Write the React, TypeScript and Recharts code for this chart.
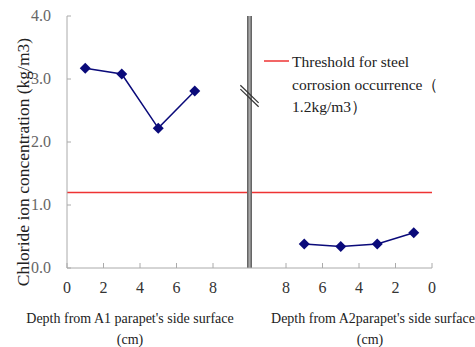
import React from 'react';
import { LineChart, Line, XAxis, YAxis, ReferenceLine } from 'recharts';

// A1 side (left panel), depth in cm from the surface
const a1Depth = [1, 3, 5, 7];
const a1Chloride = [3.17, 3.08, 2.22, 2.81];
// A2 side (right panel), axis runs reversed
const a2Depth = [7, 5, 3, 1];
const a2Chloride = [0.38, 0.34, 0.38, 0.56];

const threshold = 1.2;
const yTicks = [0, 1, 2, 3, 4];
const xTicks = [0, 2, 4, 6, 8, 12, 14, 16, 18, 20];
const xTickLabels = ['0', '2', '4', '6', '8', '8', '6', '4', '2', '0'];
const legendLines = ['Threshold for steel', 'corrosion occurrence（', '1.2kg/m3）'];

// both panels share one 0..20 axis; right panel position = 20 - depth
const SPAN = 20;
const leftData = a1Depth.map((d, i) => ({ u: d, v: a1Chloride[i] }));
const rightData = a2Depth.map((d, i) => ({ u: SPAN - d, v: a2Chloride[i] }));

const FONT = 'Liberation Serif, Times New Roman, Times, serif';
const txt = { fontFamily: FONT };
const NAVY = '#0a0a7a';

const Diamond = (props: any) => {
  const { cx, cy } = props;
  if (cx == null || cy == null) return null;
  const r = 5.5;
  return (
    <polygon
      points={`${cx},${cy - r} ${cx + r},${cy} ${cx},${cy + r} ${cx - r},${cy}`}
      fill={NAVY}
    />
  );
};

const XTick = (props: any) => {
  const { x, y, index } = props;
  return (
    <g>
      <line x1={x} x2={x} y1={y} y2={y - 5} stroke="#aaa" />
      <text x={x} y={y + 25} textAnchor="middle" fontSize={16} fill="#333" style={txt}>
        {xTickLabels[index]}
      </text>
    </g>
  );
};

const YTick = (props: any) => {
  const { x, y, payload } = props;
  return (
    <g>
      <line x1={x} x2={x + 4} y1={y} y2={y} stroke="#aaa" />
      <text x={x - 16} y={y + 5} textAnchor="end" fontSize={16} fill="#666" style={txt}>
        {Number(payload.value).toFixed(1)}
      </text>
    </g>
  );
};

export default function App() {
  return (
    <div style={{ position: 'absolute', left: 0, top: 0, width: 475, height: 347, background: '#fff' }}>
      <LineChart width={475} height={347} margin={{ top: 16, right: 43, bottom: 49, left: 27 }}>
        <XAxis
          type="number"
          dataKey="u"
          domain={[0, SPAN]}
          ticks={xTicks}
          tick={<XTick />}
          tickLine={false}
          tickSize={0}
          tickMargin={0}
          height={30}
          stroke="#aaa"
          allowDuplicatedCategory={false}
        />
        <YAxis
          type="number"
          domain={[0, 4]}
          ticks={yTicks}
          tick={<YTick />}
          tickLine={false}
          tickSize={0}
          tickMargin={0}
          width={40}
          stroke="#aaa"
        />
        <ReferenceLine y={threshold} stroke="#ee3333" strokeWidth={1.5} />
        <ReferenceLine x={10} stroke="#666" strokeWidth={5} />
        <ReferenceLine x={10} stroke="#a8a8a8" strokeWidth={2} />
        <ReferenceLine segment={[{ x: 9.5, y: 2.9 }, { x: 10.5, y: 2.62 }]} stroke="#333" strokeWidth={1.2} />
        <ReferenceLine segment={[{ x: 9.5, y: 2.84 }, { x: 10.5, y: 2.56 }]} stroke="#333" strokeWidth={1.2} />
        <Line
          data={leftData}
          dataKey="v"
          stroke={NAVY}
          strokeWidth={1.5}
          dot={<Diamond />}
          isAnimationActive={false}
        />
        <Line
          data={rightData}
          dataKey="v"
          stroke={NAVY}
          strokeWidth={1.5}
          dot={<Diamond />}
          isAnimationActive={false}
        />
      </LineChart>
      <svg
        width={475}
        height={347}
        style={{ position: 'absolute', left: 0, top: 0, pointerEvents: 'none', fontFamily: FONT }}
      >
        <text
          x={23}
          y={162}
          transform="rotate(-90 23 162)"
          textAnchor="middle"
          dominantBaseline="central"
          fontSize={17.5}
          fill="#222"
          style={txt}
        >
          Chloride ion concentration (kg/m3)
        </text>
        <text x={130} y={323} textAnchor="middle" fontSize={14} fill="#222" style={txt}>
          Depth from A1 parapet's side surface
        </text>
        <text x={130} y={344} textAnchor="middle" fontSize={14} fill="#222" style={txt}>
          (cm)
        </text>
        <text x={373} y={323} textAnchor="middle" fontSize={14} fill="#222" style={txt}>
          Depth from A2parapet's side surface
        </text>
        <text x={370} y={344} textAnchor="middle" fontSize={14} fill="#222" style={txt}>
          (cm)
        </text>
        <line x1={264} x2={289} y1={61} y2={61} stroke="#ee3333" strokeWidth={1.5} />
        {legendLines.map((t, i) => (
          <text key={i} x={292} y={67 + i * 22.5} fontSize={15.5} fill="#222" style={txt}>
            {t}
          </text>
        ))}
      </svg>
    </div>
  );
}
